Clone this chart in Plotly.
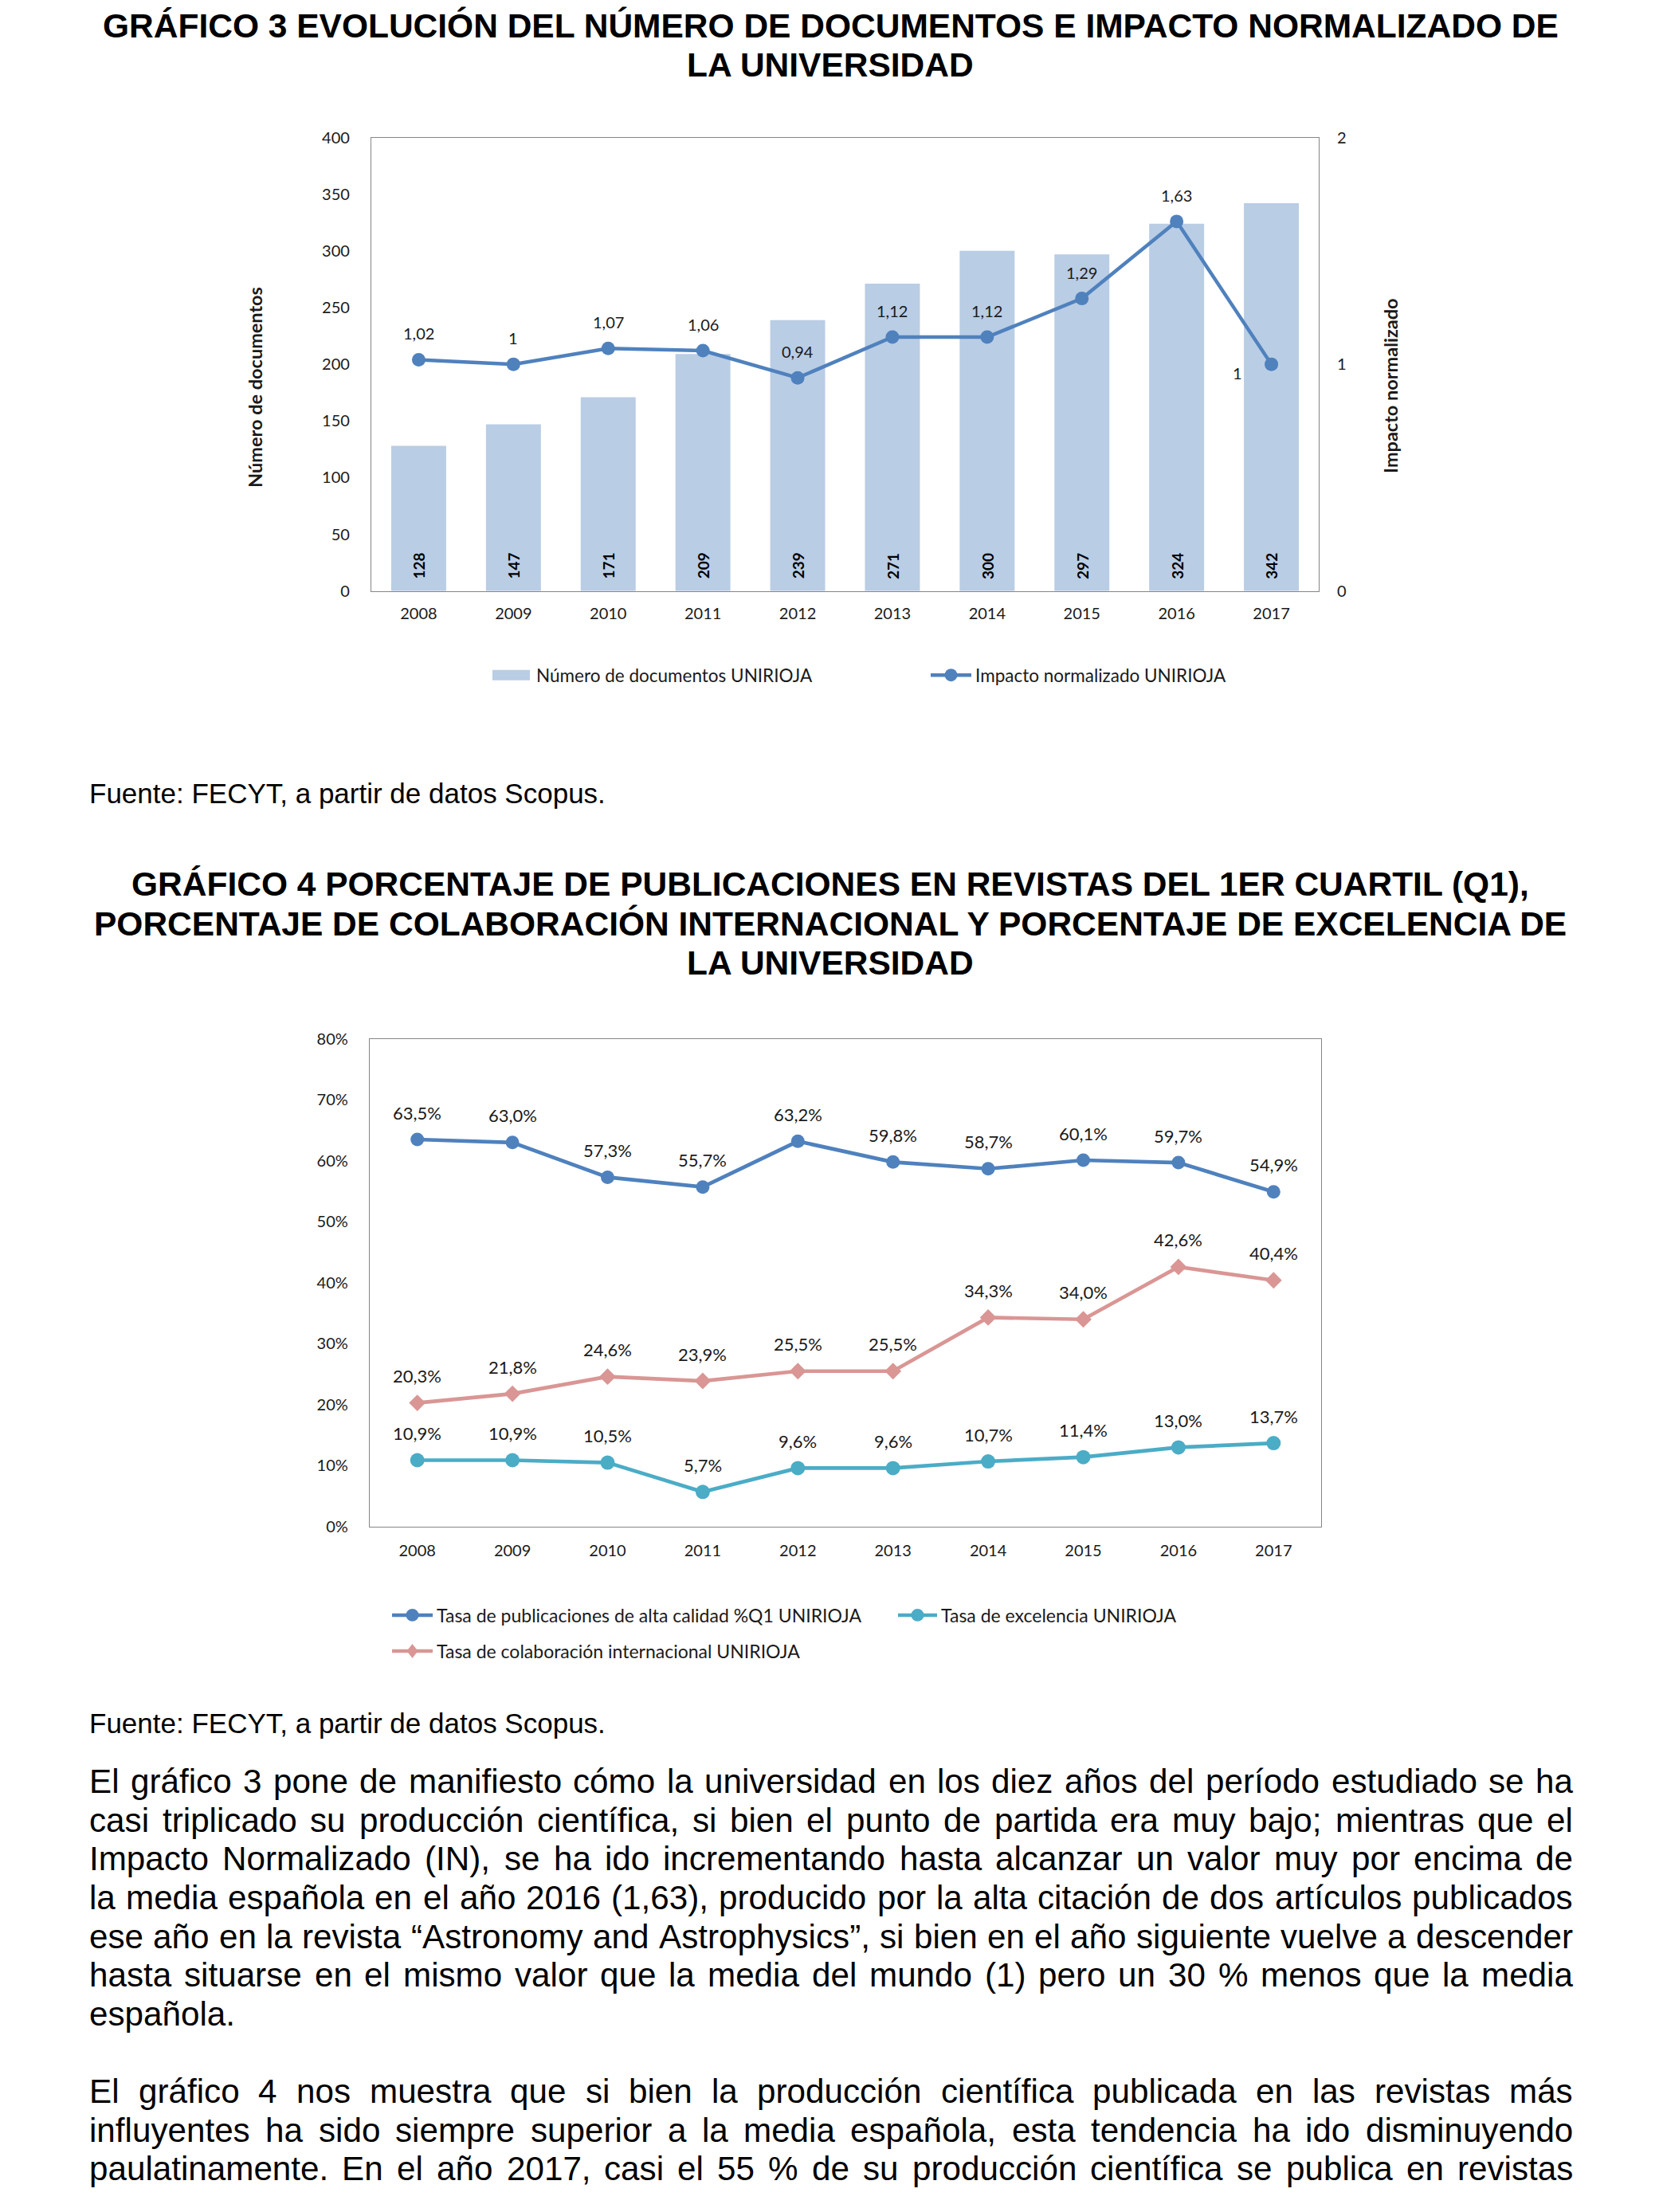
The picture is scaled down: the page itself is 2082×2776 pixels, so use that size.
import plotly.graph_objects as go

W, H = 2082, 2776

# ---------------- data ----------------
years = [2008, 2009, 2010, 2011, 2012, 2013, 2014, 2015, 2016, 2017]
documentos = [128, 147, 171, 209, 239, 271, 300, 297, 324, 342]
impacto = [1.02, 1, 1.07, 1.06, 0.94, 1.12, 1.12, 1.29, 1.63, 1]

q1 = [63.5, 63.0, 57.3, 55.7, 63.2, 59.8, 58.7, 60.1, 59.7, 54.9]
colab = [20.3, 21.8, 24.6, 23.9, 25.5, 25.5, 34.3, 34.0, 42.6, 40.4]
excel = [10.9, 10.9, 10.5, 5.7, 9.6, 9.6, 10.7, 11.4, 13.0, 13.7]

left_ticks1 = [0, 50, 100, 150, 200, 250, 300, 350, 400]
right_ticks1 = [0, 1, 2]
ticks2 = [0, 10, 20, 30, 40, 50, 60, 70, 80]

name_docs = "Número de documentos UNIRIOJA"
name_imp = "Impacto normalizado UNIRIOJA"
name_q1 = "Tasa de publicaciones de alta calidad %Q1 UNIRIOJA"
name_colab = "Tasa de colaboración internacional UNIRIOJA"
name_excel = "Tasa de excelencia UNIRIOJA"

title1 = ["GRÁFICO 3 EVOLUCIÓN DEL NÚMERO DE DOCUMENTOS E IMPACTO NORMALIZADO DE",
          "LA UNIVERSIDAD"]
title2 = ["GRÁFICO 4 PORCENTAJE DE PUBLICACIONES EN REVISTAS DEL 1ER CUARTIL (Q1),",
          "PORCENTAJE DE COLABORACIÓN INTERNACIONAL Y PORCENTAJE DE EXCELENCIA DE",
          "LA UNIVERSIDAD"]
fuente = "Fuente: FECYT, a partir de datos Scopus."
para1 = ["El gráfico 3 pone de manifiesto cómo la universidad en los diez años del período estudiado se ha",
         "casi triplicado su producción científica, si bien el punto de partida era muy bajo; mientras que el",
         "Impacto Normalizado (IN), se ha ido incrementando hasta alcanzar un valor muy por encima de",
         "la media española en el año 2016 (1,63), producido por la alta citación de dos artículos publicados",
         "ese año en la revista “Astronomy and Astrophysics”, si bien en el año siguiente vuelve a descender",
         "hasta situarse en el mismo valor que la media del mundo (1) pero un 30 % menos que la media",
         "española."]
para2 = ["El gráfico 4 nos muestra que si bien la producción científica publicada en las revistas más",
         "influyentes ha sido siempre superior a la media española, esta tendencia ha ido disminuyendo",
         "paulatinamente. En el año 2017, casi el 55 % de su producción científica se publica en revistas"]

# ---------------- helpers ----------------
def px(xp):
    return xp / W

def py(yp):
    return 1 - yp / H

def fmt_num(v):
    return f"{v:g}".replace(".", ",")

def fmt_pct(v):
    return f"{v:.1f}".replace(".", ",") + "%"

# Arial / Liberation Sans advance widths (per 1000 em)
AW = {}
for ch, w in zip("abcdefghijklmnopqrstuvwxyz",
                 [556, 556, 500, 556, 556, 278, 556, 556, 222, 222, 500, 222, 833,
                  556, 556, 556, 556, 333, 500, 278, 556, 500, 722, 500, 500, 500]):
    AW[ch] = w
for ch, w in zip("ABCDEFGHIJKLMNOPQRSTUVWXYZ",
                 [667, 667, 722, 722, 667, 611, 778, 722, 278, 500, 667, 556, 833,
                  722, 778, 667, 778, 722, 667, 611, 722, 667, 944, 667, 667, 611]):
    AW[ch] = w
for ch in "0123456789":
    AW[ch] = 556
AW.update({"á": 556, "é": 556, "í": 278, "ó": 556, "ú": 556, "ñ": 556,
           " ": 278, ",": 278, ".": 278, ";": 278, ":": 278, "(": 333, ")": 333,
           "%": 889, "“": 333, "”": 333, "-": 333})

def text_w(s, fs):
    return sum(AW.get(c, 556) for c in s) * fs / 1000.0

BODY_FONT = dict(family="Liberation Sans, Arial", size=42.2, color="#000000")
TITLE_FONT = dict(family="Liberation Sans, Arial", size=42.5, color="#000000", weight="bold")
FUENTE_FONT = dict(family="Liberation Sans, Arial", size=35, color="#000000")
CH = "Lato, Calibri, sans-serif"
TXT = "#1a1a1a"
AXC = "#868686"

LEFT, RIGHT = 111, 1973

annotations = []
shapes = []

def add_text(x, y, text, font, xanchor="left", yanchor="middle", **kw):
    annotations.append(dict(x=px(x), y=py(y), xref="paper", yref="paper", text=text,
                            showarrow=False, xanchor=xanchor, yanchor=yanchor,
                            font=font, borderpad=0, **kw))

# titles
for i, t in enumerate(title1):
    add_text((LEFT + RIGHT) / 2, 19.5 + 50 * i, t, TITLE_FONT, xanchor="center")
for i, t in enumerate(title2):
    add_text((LEFT + RIGHT) / 2, 1106 + 50 * i, t, TITLE_FONT, xanchor="center")

add_text(LEFT, 991, fuente, FUENTE_FONT)
add_text(LEFT, 2168.5, fuente, FUENTE_FONT)

# justified paragraphs
LH = 49.05
def add_para(lines, y0, lh=LH):
    for i, line in enumerate(lines):
        y = y0 + i * lh
        last = (i == len(lines) - 1) and line.endswith(".") and len(line) < 40
        words = line.split(" ")
        if last or len(words) == 1:
            add_text(LEFT, y, line, BODY_FONT)
            continue
        ws = [text_w(w, BODY_FONT["size"]) for w in words]
        gap = (RIGHT - LEFT - sum(ws)) / (len(words) - 1)
        x = LEFT
        for w, wd in zip(words, ws):
            add_text(x, y, w, BODY_FONT)
            x += wd + gap

add_para(para1, 2242)
add_para(para2, 2242 + 8 * LH)

# ---------------- chart geometry ----------------
C1 = dict(l=466, r=1655, t=161, b=735)
C2 = dict(l=464, r=1658, t=1302, b=1919.5)

fig = go.Figure()

# chart 1
fig.add_trace(go.Bar(
    x=years, y=documentos, name=name_docs,
    marker=dict(color="#B9CDE5", line=dict(width=0)),
    xaxis="x", yaxis="y", showlegend=False, hoverinfo="skip"))
fig.add_trace(go.Scatter(
    x=years, y=impacto, name=name_imp, mode="lines+markers",
    line=dict(color="#4F81BD", width=4.5), marker=dict(size=17, color="#4F81BD"),
    xaxis="x", yaxis="y2", showlegend=False, hoverinfo="skip"))

# bar value labels (rotated, at the base of each bar)
for yr, v in zip(years, documentos):
    annotations.append(dict(x=yr, y=0, xref="x", yref="y", text=str(v), showarrow=False,
                            textangle=-90, yanchor="bottom", yshift=14, borderpad=0,
                            font=dict(family=CH, size=19, color="#000000", weight="bold")))

for yr, v in zip(years, impacto):
    if yr == 2017:
        annotations.append(dict(x=yr, y=v, xref="x", yref="y2", text=fmt_num(v), showarrow=False,
                                xshift=-43, yshift=-11, font=dict(family=CH, size=20, color=TXT)))
    else:
        annotations.append(dict(x=yr, y=v, xref="x", yref="y2", text=fmt_num(v), showarrow=False,
                                yshift=33, font=dict(family=CH, size=20, color=TXT)))

# chart 2
series2 = [
    (name_q1, q1, "#4F81BD", "circle", 17),
    (name_colab, colab, "#D99694", "diamond", 16),
    (name_excel, excel, "#4BACC6", "circle", 18),
]
for name, vals, col, sym, ms in series2:
    fig.add_trace(go.Scatter(
        x=years, y=vals, name=name, mode="lines+markers",
        line=dict(color=col, width=4.7), marker=dict(size=ms, color=col, symbol=sym),
        xaxis="x2", yaxis="y3", showlegend=False, hoverinfo="skip"))
    for yr, v in zip(years, vals):
        annotations.append(dict(x=yr, y=v, xref="x2", yref="y3", text=fmt_pct(v), showarrow=False,
                                yshift=34, font=dict(family=CH, size=22, color=TXT)))

# axis titles chart 1
add_text(320, 477, "Número de documentos", dict(family=CH, size=23.5, color=TXT, weight="bold"),
         xanchor="center", textangle=-90)
add_text(1745, 476, "Impacto normalizado", dict(family=CH, size=23.5, color=TXT, weight="bold"),
         xanchor="center", textangle=-90)

# ---------------- legends (swatch + label) ----------------
def paper_shape(**kw):
    d = dict(xref="paper", yref="paper", layer="above")
    d.update(kw)
    shapes.append(d)

def legend_rect(x0, x1, y, color, label, fs):
    paper_shape(type="rect", x0=px(x0), x1=px(x1), y0=py(y + 6.5), y1=py(y - 6.5),
                fillcolor=color, line=dict(width=0))
    add_text(x1 + 7, y, label, dict(family=CH, size=fs, color=TXT))

def legend_line(x0, x1, y, color, symbol, label, fs):
    paper_shape(type="line", x0=px(x0), x1=px(x1), y0=py(y), y1=py(y),
                line=dict(color=color, width=4.5))
    xc = (x0 + x1) / 2
    r = 8
    if symbol == "circle":
        paper_shape(type="circle", x0=px(xc - r), x1=px(xc + r), y0=py(y + r), y1=py(y - r),
                    fillcolor=color, line=dict(width=0))
    else:
        path = (f"M {px(xc)},{py(y - r - 1)} L {px(xc + r - 1)},{py(y)} "
                f"L {px(xc)},{py(y + r + 1)} L {px(xc - r + 1)},{py(y)} Z")
        paper_shape(type="path", path=path, fillcolor=color, line=dict(width=0))
    add_text(x1 + 4, y, label, dict(family=CH, size=fs, color=TXT))

legend_rect(618, 665, 841.5, "#B9CDE5", name_docs, 22.5)
legend_line(1168, 1219, 841.5, "#4F81BD", "circle", name_imp, 22.5)
legend_line(492, 543, 2031.5, "#4F81BD", "circle", name_q1, 23)
legend_line(1127, 1176, 2031.5, "#4BACC6", "circle", name_excel, 23)
legend_line(492, 543, 2077, "#D99694", "diamond", name_colab, 23)

tickfont = dict(family=CH, size=20, color=TXT)

fig.update_layout(
    width=W, height=H, margin=dict(l=0, r=0, t=0, b=0),
    paper_bgcolor="white", plot_bgcolor="white",
    separators=",.", bargap=0.42, showlegend=False,
    xaxis=dict(domain=[px(C1["l"]), px(C1["r"])], anchor="y", range=[2007.5, 2017.5],
               tickvals=years, ticktext=[str(y) for y in years], tickfont=tickfont,
               showline=True, linecolor=AXC, linewidth=1.3, mirror=True,
               showgrid=False, zeroline=False, ticks="", ticklabelstandoff=10),
    yaxis=dict(domain=[py(C1["b"]), py(C1["t"])], anchor="x", range=[0, 400],
               tickvals=left_ticks1, tickfont=tickfont,
               showline=True, linecolor=AXC, linewidth=1.3, mirror=True,
               showgrid=False, zeroline=False, ticks="", ticklabelstandoff=22),
    yaxis2=dict(overlaying="y", side="right", anchor="x", range=[0, 2],
                tickvals=right_ticks1, tickfont=tickfont, showline=False,
                showgrid=False, zeroline=False, ticks="", ticklabelstandoff=22),
    xaxis2=dict(domain=[px(C2["l"]), px(C2["r"])], anchor="y3", range=[2007.5, 2017.5],
                tickvals=years, ticktext=[str(y) for y in years], tickfont=tickfont,
                showline=True, linecolor=AXC, linewidth=1.3, mirror=True,
                showgrid=False, zeroline=False, ticks="", ticklabelstandoff=12),
    yaxis3=dict(domain=[py(C2["b"]), py(C2["t"])], anchor="x2", range=[0, 80],
                tickvals=ticks2, ticktext=[f"{t}%" for t in ticks2], tickfont=tickfont,
                showline=True, linecolor=AXC, linewidth=1.3, mirror=True,
                showgrid=False, zeroline=False, ticks="", ticklabelstandoff=22),
    annotations=annotations,
    shapes=shapes,
)

fig.write_html("out.html", config={"displayModeBar": False},
               post_script="document.body.style.margin='0';document.body.style.overflow='hidden';")
